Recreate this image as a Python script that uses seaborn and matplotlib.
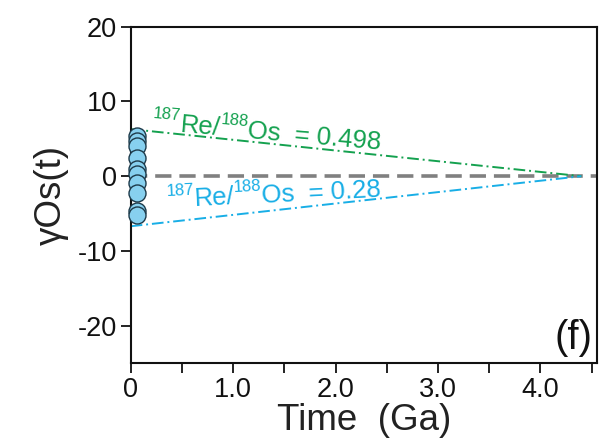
import matplotlib
matplotlib.use("Agg")
import numpy as np
import matplotlib.pyplot as plt
import seaborn as sns
import pandas as pd
from matplotlib.ticker import MultipleLocator, FixedLocator, FixedFormatter

sns.set_theme(style="ticks")
plt.rcParams["font.family"] = ["Liberation Sans", "DejaVu Sans"]
plt.rcParams["axes.unicode_minus"] = False

# Sample ages (Ga) and gamma-Os(t) values
sample_age = [0.06, 0.06, 0.06, 0.06, 0.06, 0.06, 0.06, 0.06, 0.06, 0.06]
sample_gamma = [5.4, 4.7, 4.0, 2.5, 1.0, 0.3, -0.9, -2.2, -4.6, -5.2]

# Model evolution lines, converging at 4.4 Ga
model_age = [0.0, 4.4]
gamma_high = [6.3, 0.0]   # 187Re/188Os = 0.498
gamma_low = [-6.7, 0.0]   # 187Re/188Os = 0.28
ratio_high = "0.498"
ratio_low = "0.28"

green = "#14a14f"
blue = "#18aee6"

fig = plt.figure(figsize=(6.03, 4.44), dpi=100)
ax = fig.add_axes([0.2167, 0.1824, 0.7728, 0.7574])


def ratio_label(ax, x, y, value, angle, color, size=18.5, sup_size=12, raise_pt=8.5):
    """Write 187Re/188Os = value along a tilted baseline with small superscripts."""
    pieces = [("187", sup_size, raise_pt), ("Re/", size, 0),
              ("188", sup_size, raise_pt), ("Os  = " + value, size, 0)]
    renderer = fig.canvas.get_renderer()
    a = np.deg2rad(angle)
    ux, uy = np.cos(a), np.sin(a)
    px, py = -np.sin(a), np.cos(a)
    advance = 0.0
    for txt, fs, rise in pieces:
        probe = ax.text(0, 0, txt, fontsize=fs)
        width_pt = probe.get_window_extent(renderer).width * 72.0 / fig.dpi
        probe.remove()
        ox = advance * ux + rise * px
        oy = advance * uy + rise * py
        ax.annotate(txt, xy=(x, y), xytext=(ox, oy), textcoords="offset points",
                    fontsize=fs, color=color, rotation=angle,
                    rotation_mode="anchor", ha="left", va="baseline")
        advance += width_pt


ax.axhline(0, color="#808080", lw=2.6, ls=(0, (4.5, 2.2)), zorder=1)

sns.lineplot(x=model_age, y=gamma_high, ax=ax, color=green, lw=1.4,
             linestyle=(0, (6, 2, 1, 2)), zorder=2)
sns.lineplot(x=model_age, y=gamma_low, ax=ax, color=blue, lw=1.4,
             linestyle=(0, (6, 2, 1, 2)), zorder=2)

samples = pd.DataFrame({"age": sample_age, "gamma": sample_gamma})
sns.scatterplot(data=samples, x="age", y="gamma", ax=ax, s=150,
                color="#87d0ef", edgecolor="#1d3a4a", linewidth=1.0,
                zorder=3, clip_on=False)

ax.set_xlim(0, 4.55)
ax.set_ylim(-25, 20)

ratio_label(ax, 0.208, 6.26, ratio_high, -5.0, green)
ratio_label(ax, 0.354, -4.2, ratio_low, 3.0, blue)

ax.text(0.992, 0.042, "(f)", transform=ax.transAxes, fontsize=29,
        ha="right", va="baseline", color="#111111")

xt = [0, 0.5, 1.0, 1.5, 2.0, 2.5, 3.0, 3.5, 4.0, 4.5]
xl = ["0", "", "1.0", "", "2.0", "", "3.0", "", "4.0", ""]
ax.xaxis.set_major_locator(FixedLocator(xt))
ax.xaxis.set_major_formatter(FixedFormatter(xl))
ax.yaxis.set_major_locator(MultipleLocator(10))

ax.tick_params(axis="both", direction="out", length=7, width=1.3,
               color="#111111", labelsize=19.5, labelcolor="#111111", pad=3)

for sp in ax.spines.values():
    sp.set_visible(True)
    sp.set_linewidth(1.5)
    sp.set_color("#111111")

ax.set_xlabel("Time  (Ga)", fontsize=26.5, color="#222222", labelpad=0)
ax.set_ylabel("\u03b3Os(t)", fontsize=26.5, color="#222222", labelpad=6)

fig.savefig("out.png", dpi=100)
